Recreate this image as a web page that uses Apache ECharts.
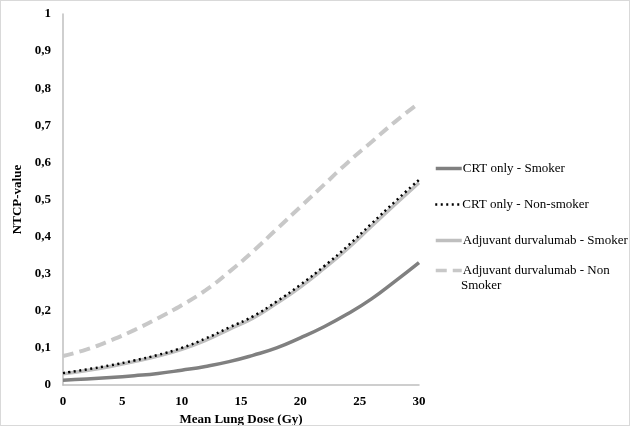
<!DOCTYPE html>
<html><head><meta charset="utf-8">
<script src="https://cdn.jsdelivr.net/npm/echarts@6/dist/echarts.min.js"></script>
<style>html,body{margin:0;padding:0;background:#fff}#c{width:630px;height:426px;box-sizing:border-box;border:1px solid #d9d9d9}</style>
</head><body><div id="c"></div>
<script>
const doses = [0, 2, 4, 6, 8, 10, 12, 14, 16, 18, 20, 22, 24, 26, 28, 30];
const crtSmoker = [0.013, 0.016, 0.020, 0.025, 0.031, 0.040, 0.050, 0.063, 0.080, 0.100, 0.127, 0.157, 0.192, 0.232, 0.280, 0.330];
const crtNonSmoker = [0.032, 0.042, 0.053, 0.066, 0.081, 0.100, 0.125, 0.155, 0.185, 0.225, 0.270, 0.320, 0.375, 0.435, 0.495, 0.553];
const adjSmoker = [0.030, 0.039, 0.050, 0.063, 0.078, 0.096, 0.120, 0.150, 0.180, 0.220, 0.264, 0.314, 0.368, 0.428, 0.487, 0.545];
const adjNonSmoker = [0.078, 0.096, 0.120, 0.148, 0.180, 0.215, 0.255, 0.305, 0.360, 0.420, 0.480, 0.540, 0.600, 0.655, 0.710, 0.760];
const names = ['CRT only - Smoker', 'CRT only - Non-smoker', 'Adjuvant durvalumab - Smoker', 'Adjuvant durvalumab - Non Smoker'];
const xTicks = [0, 5, 10, 15, 20, 25, 30];

const pairs = arr => doses.map((d, i) => [d, arr[i]]);
const font = 'Liberation Serif';
const chart = echarts.init(document.getElementById('c'));
const legendBase = {
  orient: 'vertical', left: 433, itemWidth: 26, itemHeight: 14, itemGap: 0, padding: 0,
  itemStyle: { opacity: 0 },
  textStyle: { fontFamily: font, fontSize: 13, color: '#000', padding: [0, 0, 0, -4] },
  selectedMode: false
};
chart.setOption({
  animation: false,
  grid: { left: 62, right: 210, top: 13, bottom: 40, containLabel: false, outerBoundsMode: 'none' },
  xAxis: {
    type: 'value', min: 0, max: 30, interval: 5,
    name: 'Mean Lung Dose (Gy)', nameLocation: 'middle', nameGap: 26,
    nameTextStyle: { fontFamily: font, fontWeight: 'bold', fontSize: 13, color: '#000' },
    axisLine: { show: true, lineStyle: { color: '#bfbfbf', width: 1.5 } },
    axisTick: { show: false }, splitLine: { show: false },
    axisLabel: { fontFamily: font, fontWeight: 'bold', fontSize: 13, color: '#000', margin: 10,
      formatter: v => xTicks.includes(v) ? String(v) : '' }
  },
  yAxis: {
    type: 'value', min: 0, max: 1, interval: 0.1,
    name: 'NTCP-value', nameLocation: 'middle', nameGap: 37, nameRotate: 90,
    nameTextStyle: { fontFamily: font, fontWeight: 'bold', fontSize: 13, color: '#000' },
    axisLine: { show: true, lineStyle: { color: '#bfbfbf', width: 1.5 } },
    axisTick: { show: false }, splitLine: { show: false },
    axisLabel: { fontFamily: font, fontWeight: 'bold', fontSize: 13, color: '#000', margin: 12,
      formatter: v => String(Math.round(v * 10) / 10).replace('.', ',') }
  },
  legend: [
    Object.assign({}, legendBase, { top: 161, data: [names[0]], lineStyle: { width: 3.5 } }),
    Object.assign({}, legendBase, { top: 197, data: [names[1]], lineStyle: { width: 2.5 } }),
    Object.assign({}, legendBase, { top: 233, data: [names[2]], lineStyle: { width: 3.5 } }),
    Object.assign({}, legendBase, { top: 263, data: [names[3]], lineStyle: { width: 3.5 }, formatter: () => 'Adjuvant durvalumab - Non' })
  ],
  graphic: [{ type: 'text', left: 460, top: 278, style: { text: 'Smoker', font: '13px "Liberation Serif"', fill: '#000' } }],
  series: [
    { name: names[0], type: 'line', data: pairs(crtSmoker), smooth: true, symbol: 'none', z: 2,
      lineStyle: { color: '#808080', width: 3.5 }, itemStyle: { color: '#808080' } },
    { name: names[2], type: 'line', data: pairs(adjSmoker), smooth: true, symbol: 'none', z: 2,
      lineStyle: { color: '#bfbfbf', width: 3.5 }, itemStyle: { color: '#bfbfbf' } },
    { name: names[1], type: 'line', data: pairs(crtNonSmoker), smooth: true, symbol: 'none', z: 3,
      lineStyle: { color: '#000', width: 2.5, type: [2, 3.5] }, itemStyle: { color: '#000' } },
    { name: names[3], type: 'line', data: pairs(adjNonSmoker), smooth: true, symbol: 'none', z: 2,
      lineStyle: { color: '#c8c8c8', width: 4, type: [11, 6] }, itemStyle: { color: '#c8c8c8' } }
  ]
});
</script></body></html>
